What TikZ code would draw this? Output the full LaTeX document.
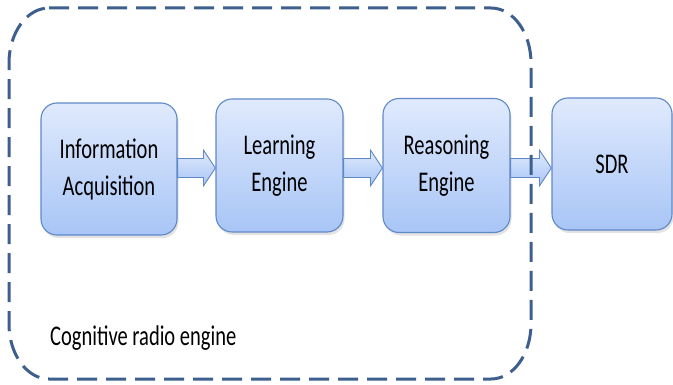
\documentclass[tikz,border=0pt]{standalone}
\usepackage{fontspec}
\newfontfamily\lbl[FakeStretch=0.72]{Carlito}
\usetikzlibrary{calc,shadows}
\definecolor{boxtop}{HTML}{E0EAFD}
\definecolor{boxbot}{HTML}{A8C5F6}
\definecolor{boxline}{HTML}{5F88C6}
\definecolor{frameblue}{HTML}{3D5F8E}
\tikzset{
  stage/.style={draw=boxline, line width=1.1pt, rounded corners=16pt,
    top color=boxtop, bottom color=boxbot, align=center,
    font=\lbl\fontsize{28.5pt}{37pt}\selectfont, inner sep=0pt,
    drop shadow={opacity=0.22, shadow xshift=1.5pt, shadow yshift=-3pt}},
  blockarrow/.style={draw=boxline, line width=0.9pt,
    top color=boxtop, bottom color=boxbot},
  frame/.style={draw=frameblue, line width=3pt, dash pattern=on 20pt off 9pt},
  caption/.style={font=\lbl\fontsize{28.5pt}{37pt}\selectfont, inner sep=0pt}
}
\begin{document}
\begin{tikzpicture}[x=1pt,y=1pt]
  \useasboundingbox (0,0) rectangle (673,384);

  % processing stages
  \node[stage, minimum width=136pt, minimum height=132pt] (info) at (109,215)
    {Information\\Acquisition};
  \node[stage, minimum width=127pt, minimum height=133pt] (learn) at (279.5,218.5)
    {Learning\\Engine};
  \node[stage, minimum width=127pt, minimum height=134pt] (reason) at (446.5,218.5)
    {Reasoning\\Engine};
  \node[stage, minimum width=120pt, minimum height=132pt] (sdr) at (612,220)
    {SDR};

  % height of the block arrows
  \coordinate (lvl) at (0,216);

  % block arrows between the stages
  \foreach \a/\b in {info/learn, learn/reason, reason/sdr}{
    \path[blockarrow]
      ($(\a.east|-lvl)+(0,9.5)$) -- ($(\b.west|-lvl)+(-12,9.5)$)
      -- ($(\b.west|-lvl)+(-12,18)$) -- (\b.west|-lvl)
      -- ($(\b.west|-lvl)+(-12,-18)$) -- ($(\b.west|-lvl)+(-12,-9.5)$)
      -- ($(\a.east|-lvl)+(0,-9.5)$) -- cycle;
  }

  % dashed frame around the cognitive engine
  \draw[frame] (49,376) -- (491,376)
    arc[start angle=90, end angle=0, x radius=40, y radius=55] -- (531,60)
    arc[start angle=0, end angle=-90, x radius=40, y radius=55] -- (49,5)
    arc[start angle=270, end angle=180, x radius=40, y radius=55] -- (9,321)
    arc[start angle=180, end angle=90, x radius=40, y radius=55] -- cycle;

  \node[caption, anchor=base west] (cap) at (50,39) {Cognitive radio engine};
\end{tikzpicture}
\end{document}
